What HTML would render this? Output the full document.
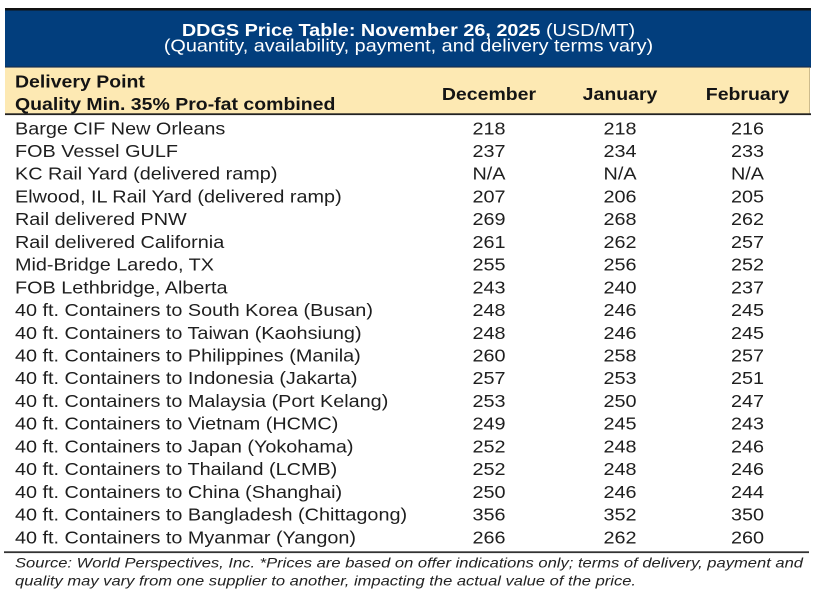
<!DOCTYPE html>
<html>
<head>
<meta charset="utf-8">
<style>
  html, body { margin: 0; padding: 0; background: #ffffff; }
  body { width: 815px; height: 600px; overflow: hidden; }
  svg { display: block; }
  text { font-family: "Liberation Sans", Arial, sans-serif; }
</style>
</head>
<body>
<svg width="815" height="600" viewBox="0 0 815 600" xmlns="http://www.w3.org/2000/svg">
  <rect x="0" y="0" width="815" height="600" fill="#ffffff"/>
  <!-- top black border -->
  <rect x="5" y="8" width="806" height="2.5" fill="#111111"/>
  <!-- blue title band -->
  <rect x="5" y="10.5" width="806" height="57" fill="#023e7d"/>
  <rect x="5" y="66.5" width="806" height="1.2" fill="#1b2b44"/>
  <!-- yellow header band -->
  <rect x="5" y="67.7" width="805" height="45.8" fill="#fde9b3"/>
  <rect x="809" y="67.7" width="1" height="45.8" fill="#cdbb8c"/>
  <!-- line under header -->
  <rect x="5" y="113.3" width="806" height="1.8" fill="#222222"/>
  <!-- bottom line -->
  <rect x="4" y="551.3" width="805" height="1.8" fill="#333333"/>

  <g transform="scale(1.12 1)">
    <!-- Title -->
    <text x="364.7" y="35.8" text-anchor="middle" font-size="17.7" fill="#ffffff"><tspan font-weight="bold">DDGS Price Table: November 26, 2025</tspan> (USD/MT)</text>
    <text x="364.7" y="51.4" text-anchor="middle" font-size="17.7" fill="#ffffff">(Quantity, availability, payment, and delivery terms vary)</text>

    <!-- Header -->
    <g font-weight="bold" font-size="17.4" fill="#141414">
      <text x="13.39" y="87.3">Delivery Point</text>
      <text x="13.39" y="110">Quality Min. 35% Pro-fat combined</text>
      <text x="436.6" y="100.2" text-anchor="middle">December</text>
      <text x="553.6" y="100.2" text-anchor="middle">January</text>
      <text x="667.4" y="100.2" text-anchor="middle">February</text>
    </g>

    <!-- Body rows -->
    <g font-size="17.7" fill="#1e1e1e">
      <text x="13.39" y="134.3">Barge CIF New Orleans</text>
      <text x="13.39" y="157.0">FOB Vessel GULF</text>
      <text x="13.39" y="179.7">KC Rail Yard (delivered ramp)</text>
      <text x="13.39" y="202.5">Elwood, IL Rail Yard (delivered ramp)</text>
      <text x="13.39" y="225.2">Rail delivered PNW</text>
      <text x="13.39" y="247.9">Rail delivered California</text>
      <text x="13.39" y="270.6">Mid-Bridge Laredo, TX</text>
      <text x="13.39" y="293.3">FOB Lethbridge, Alberta</text>
      <text x="13.39" y="316.1">40 ft. Containers to South Korea (Busan)</text>
      <text x="13.39" y="338.8">40 ft. Containers to Taiwan (Kaohsiung)</text>
      <text x="13.39" y="361.5">40 ft. Containers to Philippines (Manila)</text>
      <text x="13.39" y="384.2">40 ft. Containers to Indonesia (Jakarta)</text>
      <text x="13.39" y="406.9">40 ft. Containers to Malaysia (Port Kelang)</text>
      <text x="13.39" y="429.7">40 ft. Containers to Vietnam (HCMC)</text>
      <text x="13.39" y="452.4">40 ft. Containers to Japan (Yokohama)</text>
      <text x="13.39" y="475.1">40 ft. Containers to Thailand (LCMB)</text>
      <text x="13.39" y="497.8">40 ft. Containers to China (Shanghai)</text>
      <text x="13.39" y="520.5">40 ft. Containers to Bangladesh (Chittagong)</text>
      <text x="13.39" y="543.3">40 ft. Containers to Myanmar (Yangon)</text>
    </g>
    <g font-size="17.7" fill="#1e1e1e" text-anchor="middle">
      <text x="436.6" y="134.3">218</text><text x="553.6" y="134.3">218</text><text x="667.4" y="134.3">216</text>
      <text x="436.6" y="157.0">237</text><text x="553.6" y="157.0">234</text><text x="667.4" y="157.0">233</text>
      <text x="436.6" y="179.7">N/A</text><text x="553.6" y="179.7">N/A</text><text x="667.4" y="179.7">N/A</text>
      <text x="436.6" y="202.5">207</text><text x="553.6" y="202.5">206</text><text x="667.4" y="202.5">205</text>
      <text x="436.6" y="225.2">269</text><text x="553.6" y="225.2">268</text><text x="667.4" y="225.2">262</text>
      <text x="436.6" y="247.9">261</text><text x="553.6" y="247.9">262</text><text x="667.4" y="247.9">257</text>
      <text x="436.6" y="270.6">255</text><text x="553.6" y="270.6">256</text><text x="667.4" y="270.6">252</text>
      <text x="436.6" y="293.3">243</text><text x="553.6" y="293.3">240</text><text x="667.4" y="293.3">237</text>
      <text x="436.6" y="316.1">248</text><text x="553.6" y="316.1">246</text><text x="667.4" y="316.1">245</text>
      <text x="436.6" y="338.8">248</text><text x="553.6" y="338.8">246</text><text x="667.4" y="338.8">245</text>
      <text x="436.6" y="361.5">260</text><text x="553.6" y="361.5">258</text><text x="667.4" y="361.5">257</text>
      <text x="436.6" y="384.2">257</text><text x="553.6" y="384.2">253</text><text x="667.4" y="384.2">251</text>
      <text x="436.6" y="406.9">253</text><text x="553.6" y="406.9">250</text><text x="667.4" y="406.9">247</text>
      <text x="436.6" y="429.7">249</text><text x="553.6" y="429.7">245</text><text x="667.4" y="429.7">243</text>
      <text x="436.6" y="452.4">252</text><text x="553.6" y="452.4">248</text><text x="667.4" y="452.4">246</text>
      <text x="436.6" y="475.1">252</text><text x="553.6" y="475.1">248</text><text x="667.4" y="475.1">246</text>
      <text x="436.6" y="497.8">250</text><text x="553.6" y="497.8">246</text><text x="667.4" y="497.8">244</text>
      <text x="436.6" y="520.5">356</text><text x="553.6" y="520.5">352</text><text x="667.4" y="520.5">350</text>
      <text x="436.6" y="543.3">266</text><text x="553.6" y="543.3">262</text><text x="667.4" y="543.3">260</text>
    </g>
  </g>

  <!-- Footer -->
  <g font-size="14" font-style="italic" fill="#222222">
    <text x="15" y="567.5" textLength="788" lengthAdjust="spacingAndGlyphs">Source: World Perspectives, Inc. *Prices are based on offer indications only; terms of delivery, payment and</text>
    <text x="15" y="585.5" textLength="621" lengthAdjust="spacingAndGlyphs">quality may vary from one supplier to another, impacting the actual value of the price.</text>
  </g>
</svg>
</body>
</html>
